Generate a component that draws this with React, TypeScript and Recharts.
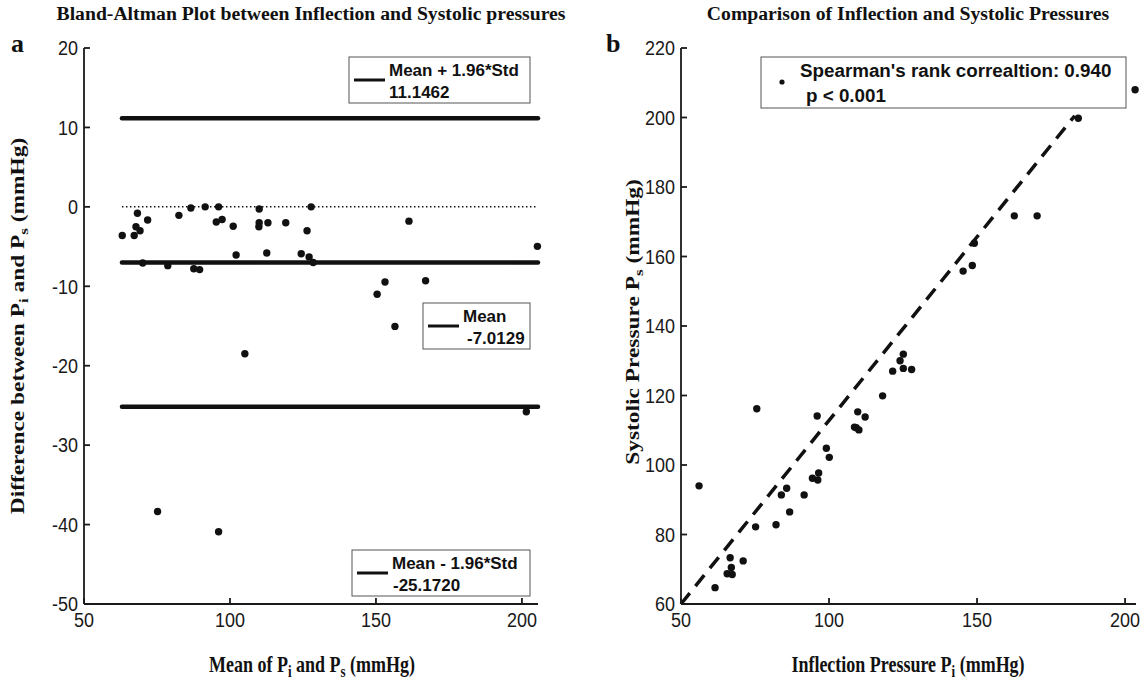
import { ScatterChart, Scatter, XAxis, YAxis, ReferenceLine } from "recharts"

// panel a: Bland-Altman (mean of Pi and Ps vs. difference Pi - Ps)
const baMean = [
  63.1, 67.2, 68.3, 67.8, 69.2, 71.8, 70.1, 75.2, 78.7, 82.5, 86.6, 87.6, 89.6,
  91.5, 96.1, 95.3, 96.1, 97.3, 101.1, 102.1, 105.1, 110.0, 110.0, 109.9, 113.0,
  112.6, 119.1, 124.4, 126.4, 127.1, 127.8, 128.5, 150.4, 153.1, 156.5, 167.0,
  161.3, 201.5, 205.3,
]
const baDiff = [
  -3.6, -3.6, -0.8, -2.5, -3.0, -1.65, -7.07, -38.35, -7.4, -1.07, -0.14, -7.8,
  -7.9, 0.0, 0.0, -1.9, -40.9, -1.6, -2.45, -6.06, -18.5, -0.27, -2.0, -2.5, -2.0,
  -5.8, -2.0, -5.9, -3.0, -6.3, 0.0, -7.0, -11.0, -9.46, -15.05, -9.3, -1.8,
  -25.8, -4.97,
]
const meanDiff = -7.0129
const upperLimit = 11.1462
const lowerLimit = -25.172
const baLineStart = 63
const baLineEnd = 205.5

// panel b: inflection vs systolic pressure
const inflection = [
  56.1, 61.5, 65.6, 66.6, 67.0, 67.3, 71.0, 75.2, 75.6, 82.1, 83.9, 85.7, 86.7,
  91.6, 94.4, 96.0, 96.2, 96.5, 99.1, 100.1, 108.6, 109.2, 110.1, 109.7, 112.2,
  118.1, 121.5, 124.0, 125.1, 125.1, 127.9, 145.3, 148.4, 149.1, 162.6, 170.3,
  184.2, 203.4,
]
const systolic = [
  94.0, 64.7, 68.7, 73.3, 70.5, 68.5, 72.4, 82.2, 116.2, 82.8, 91.4, 93.3, 86.5,
  91.4, 96.2, 114.1, 95.7, 97.7, 104.8, 102.2, 110.9, 110.7, 110.1, 115.3, 113.8,
  119.9, 127.0, 130.0, 131.9, 127.8, 127.5, 155.8, 157.4, 163.8, 171.7, 171.7,
  199.8, 208.0,
]
const fitStart = { x: 50, y: 60 }
const fitEnd = { x: 183, y: 200.5 }

const xTicks = [50, 100, 150, 200]
const baXDomain = [50, 205.5]
const baYDomain = [-50, 20]
const baYTicks = [-50, -40, -30, -20, -10, 0, 10, 20]
const cmpXDomain = [50, 203.7]
const cmpYDomain = [60, 220]
const cmpYTicks = [60, 80, 100, 120, 140, 160, 180, 200, 220]

const baData = baMean.map((m, i) => ({ x: m, y: baDiff[i] }))
const cmpData = inflection.map((p, i) => ({ x: p, y: systolic[i] }))

const INK = "#111"
const AXIS = "#1a1a1a"
const SANS = "'Liberation Sans', Arial, sans-serif"
const SERIF = "'Liberation Serif', 'Times New Roman', serif"
const TICK_FONT = 18
const axisLineStyle = { stroke: AXIS, strokeWidth: 1.8 }

// the source figure is stretched vertically, so its text looks tall and narrow
const STRETCH = 1.3
const TICK_STRETCH = 1.12

function Dot(props: any) {
  const { cx, cy } = props
  if (cx == null || cy == null) return null
  return <circle cx={cx} cy={cy} r={3.7} fill={INK} />
}

// matlab style: tick marks point into the plot
function YTick(props: any) {
  const { x, y, payload } = props
  return (
    <g>
      <path d={`M${x},${y}h6`} stroke={AXIS} strokeWidth={1.8} fill="none" />
      <text
        transform={`translate(${x - 6} ${y}) scale(1 ${TICK_STRETCH})`}
        dy="0.36em"
        textAnchor="end"
        fontFamily={SANS}
        fontSize={TICK_FONT}
        fill={AXIS}
        stroke="none"
      >
        {payload.value}
      </text>
    </g>
  )
}

function XTick(props: any) {
  const { x, y, payload } = props
  return (
    <g>
      <path d={`M${x},${y}v-6`} stroke={AXIS} strokeWidth={1.8} fill="none" />
      <text
        transform={`translate(${x} ${y + 23}) scale(1 ${TICK_STRETCH})`}
        textAnchor="middle"
        fontFamily={SANS}
        fontSize={TICK_FONT}
        fill={AXIS}
        stroke="none"
      >
        {payload.value}
      </text>
    </g>
  )
}

function BlandAltman() {
  return (
    <ScatterChart
      width={560}
      height={683}
      margin={{ top: 48, right: 22, bottom: 49, left: 24 }}
    >
      <XAxis
        type="number"
        dataKey="x"
        domain={baXDomain}
        ticks={xTicks}
        height={30}
        tick={<XTick />}
        axisLine={axisLineStyle}
        stroke={AXIS}
        tickLine={false}
        tickSize={0}
        tickMargin={0}
      />
      <YAxis
        type="number"
        dataKey="y"
        domain={baYDomain}
        ticks={baYTicks}
        width={60}
        tick={<YTick />}
        axisLine={axisLineStyle}
        stroke={AXIS}
        tickLine={false}
        tickSize={0}
        tickMargin={0}
      />
      <ReferenceLine
        segment={[{ x: baLineStart, y: 0 }, { x: baLineEnd, y: 0 }]}
        stroke={INK}
        strokeWidth={1.5}
        strokeDasharray="1.5 2.5"
      />
      <ReferenceLine
        segment={[{ x: baLineStart, y: upperLimit }, { x: baLineEnd, y: upperLimit }]}
        stroke={INK}
        strokeWidth={4.5}
        strokeLinecap="round"
      />
      <ReferenceLine
        segment={[{ x: baLineStart, y: meanDiff }, { x: baLineEnd, y: meanDiff }]}
        stroke={INK}
        strokeWidth={4.5}
        strokeLinecap="round"
      />
      <ReferenceLine
        segment={[{ x: baLineStart, y: lowerLimit }, { x: baLineEnd, y: lowerLimit }]}
        stroke={INK}
        strokeWidth={4.5}
        strokeLinecap="round"
      />
      <Scatter data={baData} shape={<Dot />} isAnimationActive={false} />
    </ScatterChart>
  )
}

function Comparison() {
  return (
    <ScatterChart
      width={566}
      height={683}
      margin={{ top: 48, right: 10, bottom: 49, left: 41 }}
    >
      <XAxis
        type="number"
        dataKey="x"
        domain={cmpXDomain}
        ticks={xTicks}
        height={30}
        tick={<XTick />}
        axisLine={axisLineStyle}
        stroke={AXIS}
        tickLine={false}
        tickSize={0}
        tickMargin={0}
      />
      <YAxis
        type="number"
        dataKey="y"
        domain={cmpYDomain}
        ticks={cmpYTicks}
        width={60}
        tick={<YTick />}
        axisLine={axisLineStyle}
        stroke={AXIS}
        tickLine={false}
        tickSize={0}
        tickMargin={0}
      />
      <ReferenceLine
        segment={[fitStart, fitEnd]}
        stroke={INK}
        strokeWidth={3.5}
        strokeDasharray="14 9"
      />
      <Scatter data={cmpData} shape={<Dot />} isAnimationActive={false} />
    </ScatterChart>
  )
}

function LegendBox({ x, y, w, h, line1, line2, l2x }: any) {
  return (
    <g>
      <rect x={x} y={y} width={w} height={h} fill="#fff" stroke="#555" strokeWidth={1} />
      <line x1={x + 5} x2={x + 36} y1={y + 23} y2={y + 23} stroke={INK} strokeWidth={3} />
      <text x={x + 40} y={y + 19} fontFamily={SANS} fontWeight="bold" fontSize={17} fill={INK}>
        {line1}
      </text>
      <text x={l2x ?? x + 40} y={y + 41} fontFamily={SANS} fontWeight="bold" fontSize={17} fill={INK}>
        {line2}
      </text>
    </g>
  )
}

function Annotations() {
  const label = { fontFamily: SERIF, fontWeight: "bold" as const, fontSize: 18, fill: INK }
  const sub = 13
  return (
    <svg
      width={1146}
      height={683}
      style={{ position: "absolute", left: 0, top: 0, pointerEvents: "none" }}
    >
      <text x={311} y={20} textAnchor="middle" {...label} fontSize={19.7}>
        Bland-Altman Plot between Inflection and Systolic pressures
      </text>
      <text x={908} y={20} textAnchor="middle" {...label} fontSize={19.7}>
        Comparison of Inflection and Systolic Pressures
      </text>
      <text x={11} y={52} {...label} fontSize={26}>a</text>
      <text x={606} y={52} {...label} fontSize={26}>b</text>

      <text transform={`translate(312 672) scale(1 ${STRETCH})`} textAnchor="middle" {...label}>
        Mean of P<tspan dy={4} fontSize={sub}>i</tspan>
        <tspan dy={-4}> and P</tspan>
        <tspan dy={4} fontSize={sub}>s</tspan>
        <tspan dy={-4}> (mmHg)</tspan>
      </text>
      <text transform={`translate(908 672) scale(1 ${STRETCH})`} textAnchor="middle" {...label}>
        Inflection Pressure P<tspan dy={4} fontSize={sub}>i</tspan>
        <tspan dy={-4}> (mmHg)</tspan>
      </text>
      <text
        transform={`translate(24 326) rotate(-90) scale(${STRETCH} 1)`}
        textAnchor="middle"
        {...label}
      >
        Difference between P<tspan dy={4} fontSize={sub}>i</tspan>
        <tspan dy={-4}> and P</tspan>
        <tspan dy={4} fontSize={sub}>s</tspan>
        <tspan dy={-4}> (mmHg)</tspan>
      </text>
      <text
        transform={`translate(639 322) rotate(-90) scale(${STRETCH} 1)`}
        textAnchor="middle"
        {...label}
      >
        Systolic Pressure P<tspan dy={4} fontSize={sub}>s</tspan>
        <tspan dy={-4}> (mmHg)</tspan>
      </text>

      <LegendBox x={349} y={57} w={181} h={46} line1="Mean + 1.96*Std" line2="11.1462" />
      <LegendBox x={423} y={303} w={107} h={46} line1="Mean" line2="-7.0129" l2x={467} />
      <LegendBox x={352} y={550} w={178} h={46} line1="Mean - 1.96*Std" line2="-25.1720" l2x={393} />

      <g>
        <rect x={761} y={57} width={365} height={51} fill="#fff" stroke="#555" strokeWidth={1} />
        <circle cx={782} cy={82} r={2.6} fill={INK} />
        <text x={800} y={77} fontFamily={SANS} fontWeight="bold" fontSize={18.8} fill={INK}>
          Spearman's rank correaltion: 0.940
        </text>
        <text x={806} y={102} fontFamily={SANS} fontWeight="bold" fontSize={18.8} fill={INK}>
          p &lt; 0.001
        </text>
      </g>
    </svg>
  )
}

export default function App() {
  return (
    <div
      style={{
        position: "absolute",
        left: 0,
        top: 0,
        width: 1146,
        height: 683,
        background: "#fff",
      }}
    >
      <div style={{ position: "absolute", left: 0, top: 0 }}>
        <BlandAltman />
      </div>
      <div style={{ position: "absolute", left: 580, top: 0 }}>
        <Comparison />
      </div>
      <Annotations />
    </div>
  )
}
